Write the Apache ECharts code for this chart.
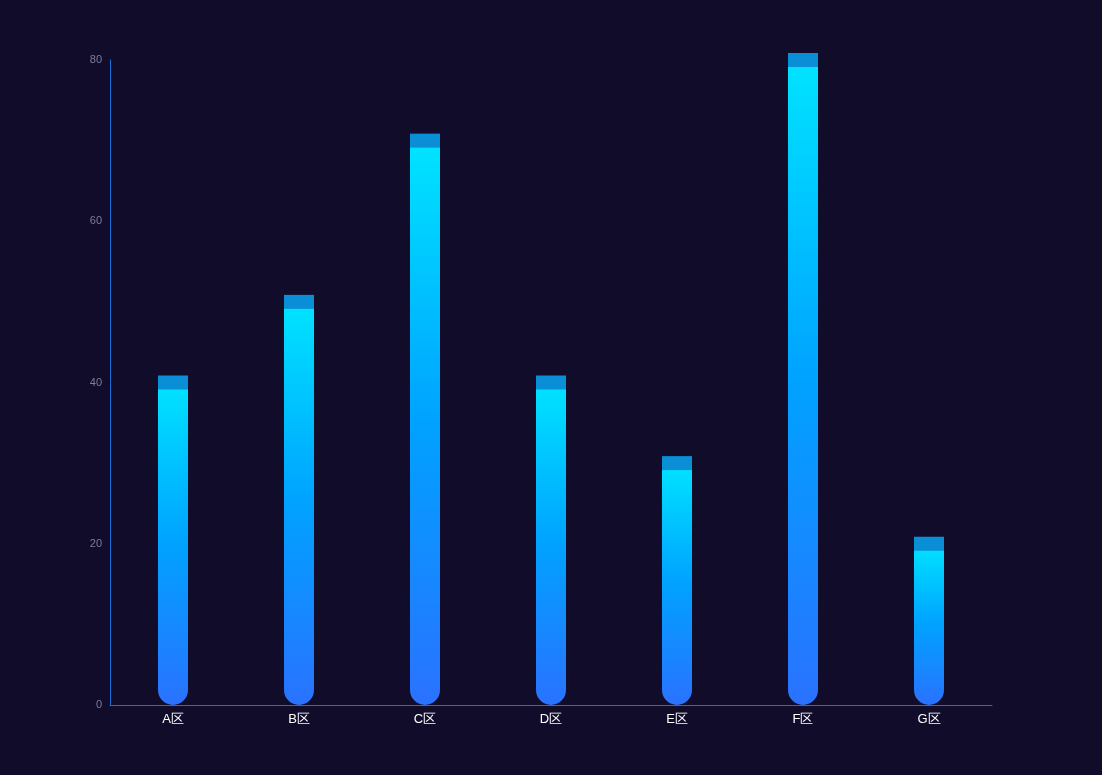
<!DOCTYPE html>
<html><head><meta charset="utf-8">
<script src="https://cdn.jsdelivr.net/npm/echarts@6/dist/echarts.min.js"></script>
<style>html,body{margin:0;background:#100c2a}#c{width:1102px;height:775px}</style>
</head><body><div id="c"></div>
<script>
const categories = ['A区', 'B区', 'C区', 'D区', 'E区', 'F区', 'G区'];
const values = [40, 50, 70, 40, 30, 80, 20];
const yTicks = [0, 20, 40, 60, 80];

const chart = echarts.init(document.getElementById('c'));
chart.setOption({
  backgroundColor: '#100c2a',
  grid: { left: 110, right: 110, top: 60, bottom: 70 },
  xAxis: {
    type: 'category', data: categories,
    axisLine: { lineStyle: { color: '#5a5f8a' } },
    axisTick: { show: false },
    axisLabel: { color: '#ffffff', fontSize: 13, margin: 8 }
  },
  yAxis: {
    type: 'value', min: yTicks[0], max: yTicks[yTicks.length - 1], interval: 20,
    axisLine: { show: true, lineStyle: { color: '#1e6fd8' } },
    axisTick: { show: false },
    splitLine: { show: false },
    axisLabel: { color: '#7c7f99', fontSize: 11, margin: 8 }
  },
  series: [{
    type: 'bar', data: values, barWidth: 30,
    itemStyle: {
      borderRadius: [0, 0, 15, 15],
      color: new echarts.graphic.LinearGradient(0, 0, 0, 1, [
        { offset: 0, color: '#00e4ff' },
        { offset: 0.5, color: '#00a2ff' },
        { offset: 1, color: '#2a72ff' }
      ])
    }
  }, {
    type: 'pictorialBar', data: values, symbol: 'ellipse',
    symbolSize: [30, 14], symbolPosition: 'end', symbolOffset: [0, -7],
    z: 3, itemStyle: { color: '#0a8fd6' }
  }]
});
</script></body></html>
